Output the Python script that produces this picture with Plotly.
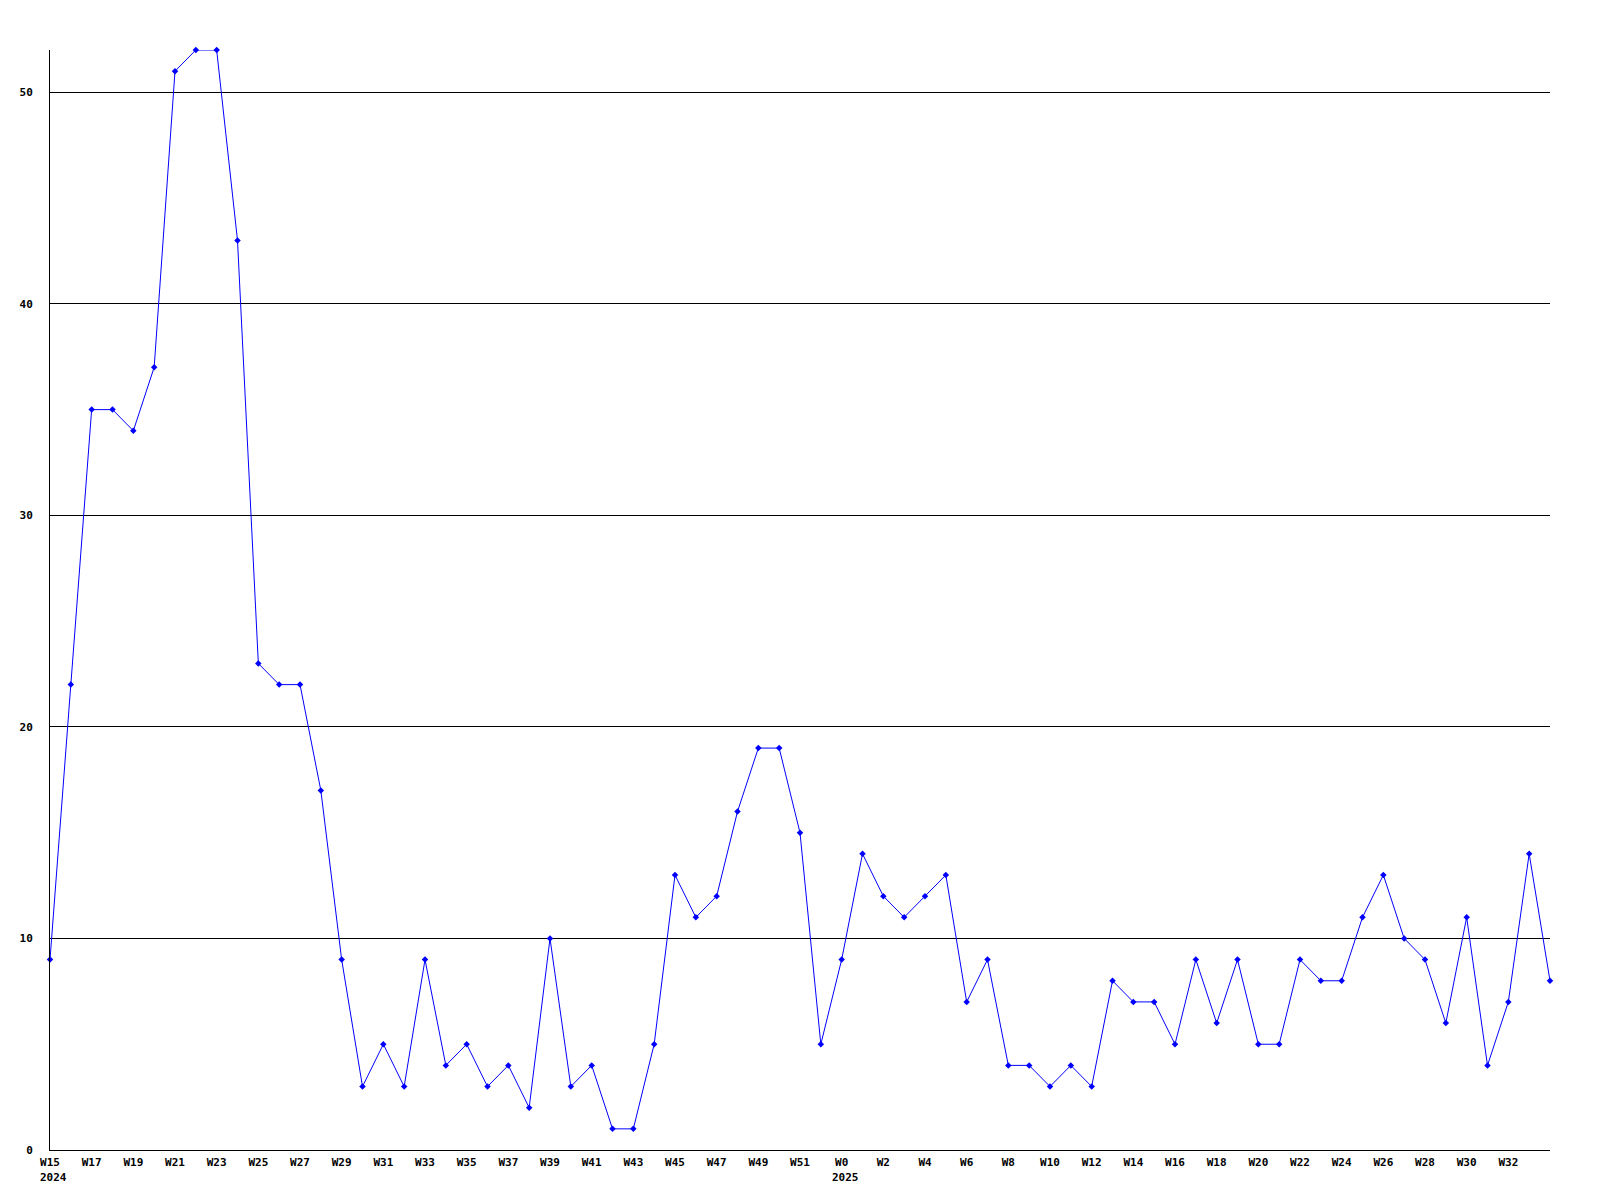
import plotly.graph_objects as go

weeks = [f"W{w}" for w in range(15, 53)] + [f"W{w}" for w in range(0, 35)]
years = ["2024"] * 38 + ["2025"] * 35
values = [9, 22, 35, 35, 34, 37, 51, 52, 52, 43, 23, 22, 22, 17, 9, 3, 5, 3, 9, 4,
          5, 3, 4, 2, 10, 3, 4, 1, 1, 5, 13, 11, 12, 16, 19, 19, 15, 5,
          9, 14, 12, 11, 12, 13, 7, 9, 4, 4, 3, 4, 3, 8, 7, 7, 5, 9, 6, 9, 5, 5,
          9, 8, 8, 11, 13, 10, 9, 6, 11, 4, 7, 14, 8]
y_ticks = [0, 10, 20, 30, 40, 50]

x = list(range(len(values)))
tick_idx = x[::2][:36]
tick_txt = [weeks[i] for i in tick_idx]

font = dict(family="DejaVu Sans Mono", size=11, color="black", weight="bold")

fig = go.Figure()
fig.add_trace(go.Scatter(
    x=x, y=values, mode="lines+markers", cliponaxis=False,
    line=dict(color="#0000ff", width=1),
    marker=dict(symbol="diamond", size=5, color="#0000ff"),
    hoverinfo="skip", showlegend=False,
))

annotations = []
for i, yr in enumerate(years):
    if i == 0 or years[i - 1] != yr:
        annotations.append(dict(
            x=x[i], y=0, xref="x", yref="y", text=yr, showarrow=False,
            xanchor="left", yanchor="top", xshift=-12, yshift=-19, font=font))

fig.update_layout(
    width=1600, height=1200,
    margin=dict(l=42, r=58, t=42, b=58, autoexpand=False),
    plot_bgcolor="white", paper_bgcolor="white",
    xaxis=dict(range=[0, len(values) - 1], tickvals=tick_idx, ticktext=tick_txt,
               showgrid=False, zeroline=False, showline=True, linecolor="black",
               linewidth=1, ticks="", tickfont=font, ticklabelstandoff=2),
    yaxis=dict(range=[0, 52], tickvals=y_ticks, showgrid=True, gridcolor="black",
               gridwidth=1, zeroline=False, showline=True, linecolor="black",
               linewidth=1, ticks="", tickfont=font, ticklabelstandoff=14),
    annotations=annotations,
)

fig.write_html("out.html")
